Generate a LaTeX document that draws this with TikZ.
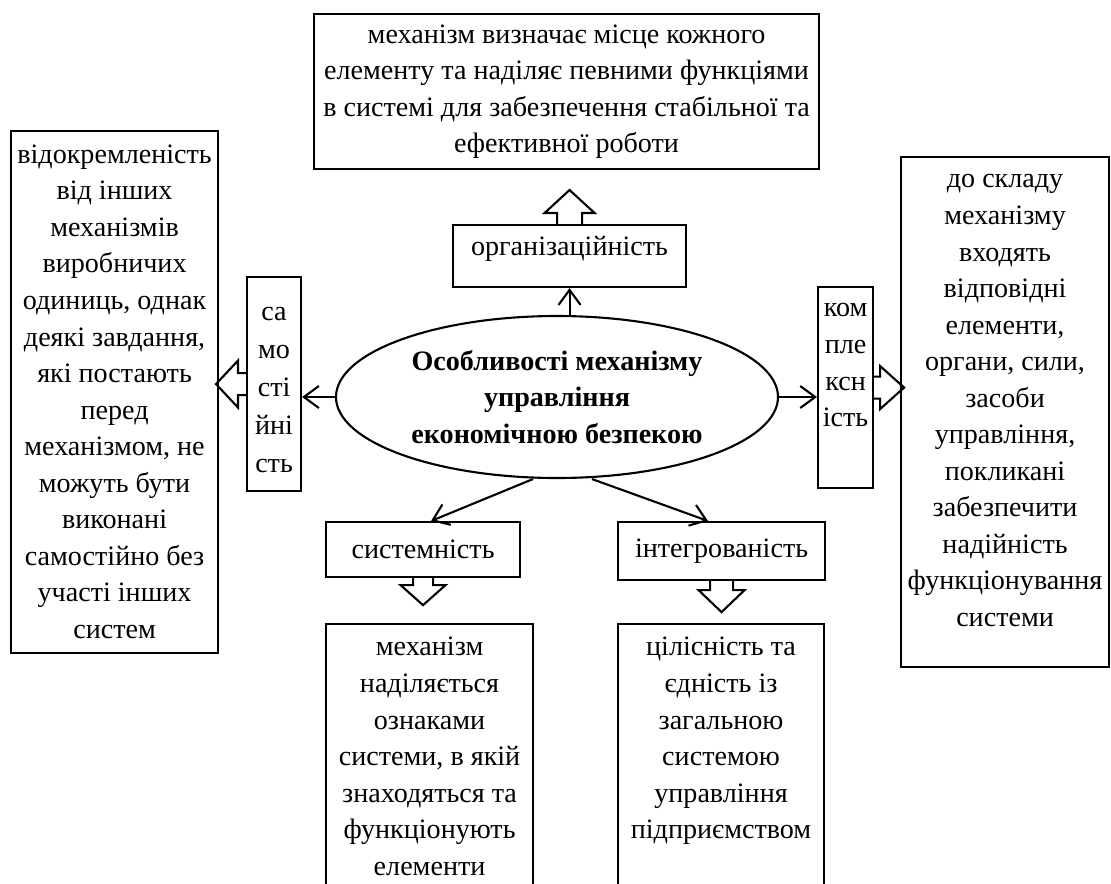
\documentclass[tikz,border=0pt]{standalone}
\usepackage{fontspec}
\setmainfont{Liberation Serif}
\usetikzlibrary{positioning, calc, shapes.geometric, arrows.meta}

\tikzset{
  box/.style={draw, semithick, rectangle, inner sep=0pt, anchor=north west, align=center,
    font=\fontsize{8}{10.4}\selectfont},
  txt/.style={align=center, inner sep=0pt, anchor=north, font=\fontsize{8}{10.4}\selectfont},
  conn/.style={semithick, -{Straight Barb[length=1.5mm, width=2.2mm]}},
  barrow/.style={semithick, line join=miter},
}

\begin{document}
\begin{tikzpicture}
        \clip (0,0) rectangle (11.11,-8.83);
        \fill[white] (0,0) rectangle (11.11,-8.83);

        \node[ellipse, draw, semithick, inner sep=0pt, minimum width=4.42cm, minimum height=1.62cm,
          align=center, font=\fontsize{8}{10.4}\selectfont\bfseries] (ell) at (5.57,-3.97)
          {Особливості механізму\\ управління\\ економічною безпекою};

        \node[box, minimum width=5.05cm, minimum height=1.55cm] (purpose) at (3.13,-0.13)
          {механізм визначає місце кожного\\ елементу та наділяє певними функціями\\
           в системі для забезпечення стабільної та\\ ефективної роботи};   %top

        \node[box, minimum width=2.33cm, minimum height=0.62cm] (org) at (4.52,-2.24) {};
        \node[txt] (org-t) at ($ (org.north) + (0,-0.05) $) {\strut організаційність};

        \node[box, minimum width=0.54cm, minimum height=2.14cm] (samo) at (2.46,-2.76) {};
        \node[txt, font=\fontsize{8}{10.8}\selectfont] (samo-t) at ($ (samo.north) + (0,-0.17) $)
          {\strut са\\ мо\\ сті\\ йні\\ сть};   %left small

        \node[box, minimum width=2.07cm, minimum height=5.22cm] (apart) at (0.10,-1.30) {};
        \node[txt] (apart-t) at ($ (apart.north) + (0,-0.07) $)
          {\strut відокремленість\\ від інших\\ механізмів\\ виробничих\\ одиниць, однак\\ деякі завдання,\\
           які постають\\ перед\\ механізмом, не\\ можуть бути\\ виконані\\ самостійно без\\
           участі інших\\ систем};   %left

        \node[box, minimum width=0.55cm, minimum height=2.01cm] (kompl) at (8.17,-2.86) {};
        \node[txt] (kompl-t) at ($ (kompl.north) + (0,-0.046) $) {\strut ком\\ пле\\ ксн\\ ість};   %right small

        \node[box, minimum width=2.08cm, minimum height=5.10cm] (compos) at (9.00,-1.56) {};
        \node[txt] (compos-t) at ($ (compos.north) + (0,-0.056) $)
          {\strut до складу\\ механізму\\ входять\\ відповідні\\ елементи,\\ органи, сили,\\ засоби\\
           управління,\\ покликані\\ забезпечити\\ надійність\\ функціонування\\ системи};   %right

        \node[box, minimum width=1.94cm, minimum height=0.55cm] (sys) at (3.25,-5.21) {системність};
        \node[box, minimum width=2.07cm, minimum height=0.58cm] (integ) at (6.17,-5.21) {інтегрованість};

        \node[box, minimum width=2.07cm, minimum height=2.80cm] (signs) at (3.25,-6.23) {};
        \node[txt] (signs-t) at ($ (signs.north) + (0,-0.066) $)
          {\strut механізм\\ наділяється\\ ознаками\\ системи, в якій\\ знаходяться та\\ функціонують\\ елементи};   %bottom left

        \node[box, minimum width=2.06cm, minimum height=2.80cm] (whole) at (6.17,-6.23) {};
        \node[txt] (whole-t) at ($ (whole.north) + (0,-0.066) $)
          {\strut цілісність та\\ єдність із\\ загальною\\ системою\\ управління\\ підприємством};   %bottom right

        \draw[conn] (ell.north -| org.south) -- (org.south);
        \draw[conn] (ell.west) -- (samo.east |- ell.west);
        \draw[conn] (ell.east) -- (kompl.west |- ell.east);
        \draw[conn] ($ (ell.south) + (-0.24,0) $) -- ($ (sys.north) + (0.08,0) $);
        \draw[conn] ($ (ell.south) + (0.35,0) $) -- ($ (integ.north) + (-0.135,0) $);

        \draw[barrow] ($ (org.north) + (-0.125,0) $) -- ++(0,0.11) -- ++(-0.125,0) -- ++(0.25,0.23)
          -- ++(0.25,-0.23) -- ++(-0.125,0) -- ++(0,-0.11);   %up
        \draw[barrow] ($ (samo.west) + (0,0.11) $) -- ++(-0.08,0) -- ++(0,0.125) -- ++(-0.22,-0.235)
          -- ++(0.22,-0.235) -- ++(0,0.125) -- ++(0.08,0);   %left
        \draw[barrow] ($ (kompl.east) + (0,0.11) $) -- ++(0.06,0) -- ++(0,0.105) -- ++(0.24,-0.215)
          -- ++(-0.24,-0.215) -- ++(0,0.105) -- ++(-0.06,0);   %right
        \draw[barrow] ($ (sys.south) + (-0.10,0) $) -- ++(0,-0.07) -- ++(-0.125,0) -- ++(0.225,-0.20)
          -- ++(0.225,0.20) -- ++(-0.125,0) -- ++(0,0.07);   %down left
        \draw[barrow] ($ (integ.south) + (-0.115,0) $) -- ++(0,-0.09) -- ++(-0.115,0) -- ++(0.23,-0.22)
          -- ++(0.23,0.22) -- ++(-0.115,0) -- ++(0,0.09);   %down right
      \end{tikzpicture}
\end{document}
